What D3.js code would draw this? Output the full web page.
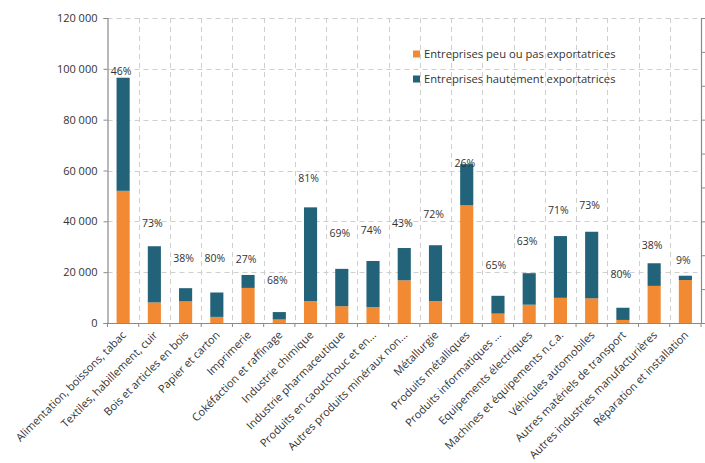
<!DOCTYPE html>
<html lang="fr">
<head>
<meta charset="utf-8">
<script src="https://cdn.jsdelivr.net/npm/d3@7"></script>
<style>
  html, body { margin: 0; padding: 0; background: #fff; }
  svg { display: block; font-family: "Open Sans", "DejaVu Sans", sans-serif; }
</style>
</head>
<body>
<svg id="chart" width="705" height="463"></svg>
<script>
// Secteurs de l'industrie manufacturière
const categories = [
  "Alimentation, boissons, tabac",
  "Textiles, habillement, cuir",
  "Bois et articles en bois",
  "Papier et carton",
  "Imprimerie",
  "Cokéfaction et raffinage",
  "Industrie chimique",
  "Industrie pharmaceutique",
  "Produits en caoutchouc et en...",
  "Autres produits minéraux non...",
  "Métallurgie",
  "Produits métalliques",
  "Produits informatiques ...",
  "Equipements électriques",
  "Machines et équipements n.c.a.",
  "Véhicules automobiles",
  "Autres matériels de transport",
  "Autres industries manufacturières",
  "Réparation et installation"
];

// Effectifs des entreprises peu ou pas exportatrices
const peuExport = [52000, 8100, 8500, 2400, 13800, 1370, 8600, 6600, 6300, 16800,
                   8600, 46300, 3700, 7200, 9900, 9700, 1200, 14600, 16900];

// Effectifs des entreprises hautement exportatrices
const hautExport = [44500, 22100, 5200, 9600, 5100, 2930, 36900, 14700, 18100, 12700,
                    22000, 16200, 7000, 12400, 24300, 26200, 4800, 8900, 1700];

// Niveau (sur l'axe des effectifs) où s'affiche la part des hautement exportatrices
const labelLevel = [99100, 39200, 25500, 25500, 25100, 16900, 56900, 35300, 36600, 39200,
                    42800, 62800, 22800, 32000, 44500, 46400, 19300, 30700, 24500];

const yTicks = [0, 20000, 40000, 60000, 80000, 100000, 120000];
const seriesNames = ["Entreprises peu ou pas exportatrices", "Entreprises hautement exportatrices"];
const colors = ["#f28a33", "#22637a"];

const svg = d3.select("#chart");
const plotLeft = 107.5, plotRight = 701, plotTop = 18, plotBottom = 323;

const x = d3.scaleBand().domain(categories).range([plotLeft, plotRight]).padding(0);
const y = d3.scaleLinear().domain([0, 120000]).range([plotBottom, plotTop]);
const yRight = d3.scaleLinear().domain([0, 0.9]).range([plotBottom, plotTop]);

const fmt = v => d3.format(",")(v).replace(/,/g, " ");

// Grille pointillée
const grid = svg.append("g").attr("stroke", "#cfcfcf").attr("stroke-dasharray", "5,4").attr("stroke-width", 1);
grid.selectAll("line.h").data(yTicks.filter(t => t > 0)).join("line")
  .attr("x1", plotLeft).attr("x2", plotRight)
  .attr("y1", d => Math.round(y(d)) + 0.5).attr("y2", d => Math.round(y(d)) + 0.5);
grid.selectAll("line.v").data(categories.slice(1)).join("line")
  .attr("x1", d => Math.round(x(d)) + 0.5).attr("x2", d => Math.round(x(d)) + 0.5)
  .attr("y1", plotTop).attr("y2", plotBottom);

// Barres empilées
const stackData = categories.map((c, i) => ({ cat: c, peu: peuExport[i], haut: hautExport[i] }));
const stacked = d3.stack().keys(["peu", "haut"])(stackData);
const barW = x.bandwidth() * 0.42;

svg.append("g").selectAll("g").data(stacked).join("g")
  .attr("fill", (d, i) => colors[i])
  .selectAll("rect").data(d => d).join("rect")
  .attr("x", d => x(d.data.cat) + (x.bandwidth() - barW) / 2)
  .attr("width", barW)
  .attr("y", d => y(d[1]))
  .attr("height", d => y(d[0]) - y(d[1]));

// Axes
const axisColor = "#8a8a8a";
const gY = svg.append("g").attr("transform", `translate(${plotLeft},0)`)
  .call(d3.axisLeft(y).tickValues(yTicks).tickFormat(fmt).tickSize(4).tickPadding(6));
const gYR = svg.append("g").attr("transform", `translate(${plotRight},0)`)
  .call(d3.axisRight(yRight).ticks(9).tickFormat("").tickSize(4));
const gX = svg.append("g").attr("transform", `translate(0,${plotBottom})`)
  .call(d3.axisBottom(x).tickSize(0).tickFormat(""));
gX.selectAll(".tick").remove();
gX.append("g").selectAll("line").data(d3.range(categories.length + 1)).join("line")
  .attr("x1", i => plotLeft + i * x.step()).attr("x2", i => plotLeft + i * x.step())
  .attr("y1", 0).attr("y2", 4).attr("stroke", axisColor);

[gY, gYR, gX].forEach(g => {
  g.selectAll(".domain").attr("stroke", axisColor).attr("stroke-width", 1.2);
  g.selectAll(".tick line").attr("stroke", axisColor);
});
gY.selectAll("text").attr("fill", "#333").style("font-size", "11px").style("font-family", "'Open Sans', sans-serif");

// Libellés des catégories
svg.append("g").selectAll("text").data(categories).join("text")
  .attr("transform", d => `translate(${x(d) + x.bandwidth() / 2 + 1},${plotBottom + 10}) rotate(-45)`)
  .attr("text-anchor", "end")
  .attr("dy", "0.35em")
  .attr("fill", "#333")
  .style("font-size", "11px")
  .text(d => d);

// Part des entreprises hautement exportatrices
svg.append("g").selectAll("text").data(stackData).join("text")
  .attr("x", d => x(d.cat) + x.bandwidth() / 2 - 2)
  .attr("y", (d, i) => y(labelLevel[i]))
  .attr("dy", "0.35em")
  .attr("text-anchor", "middle")
  .attr("fill", "#333")
  .style("font-size", "10.5px")
  .text(d => Math.round(100 * d.haut / (d.peu + d.haut)) + "%");

// Légende
const legend = svg.append("g").attr("transform", "translate(413,54)");
seriesNames.forEach((name, i) => {
  const g = legend.append("g").attr("transform", `translate(0,${i * 25})`);
  g.append("rect").attr("x", 0).attr("y", -3.5).attr("width", 7).attr("height", 7).attr("fill", colors[i]);
  g.append("text").attr("x", 11).attr("dy", "0.35em").attr("fill", "#333")
    .style("font-size", "11.2px").text(name);
});
</script>
</body>
</html>
